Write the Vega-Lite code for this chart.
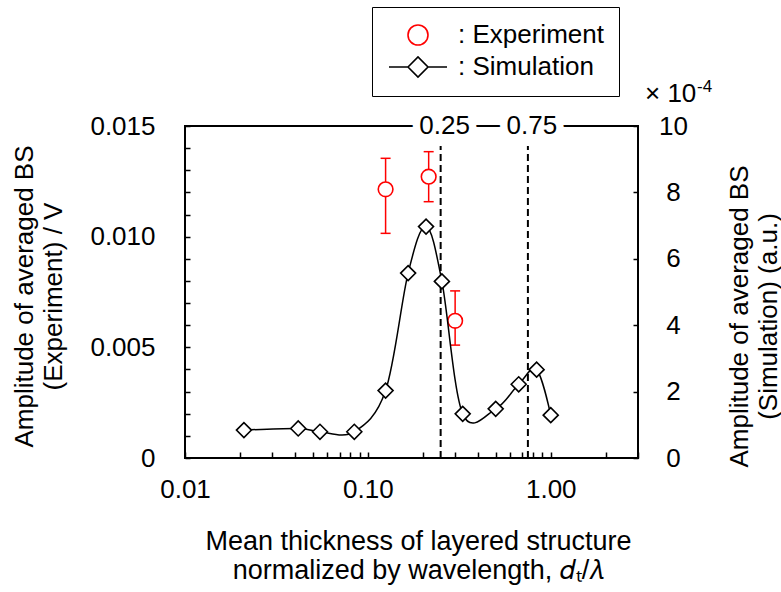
{
  "$schema": "https://vega.github.io/schema/vega-lite/v6.json",
  "width": 453,
  "height": 332,
  "autosize": {"type": "none"},
  "padding": {"left": 185, "top": 126, "right": 143, "bottom": 134},
  "background": "white",
  "config": {
    "view": {"stroke": "black", "strokeWidth": 2},
    "font": "Liberation Sans",
    "axis": {
      "grid": false,
      "domain": false,
      "tickColor": "black",
      "tickWidth": 1.5,
      "labelColor": "black",
      "labelFontSize": 26,
      "titleColor": "black",
      "titleFontSize": 26,
      "titleFontWeight": "normal",
      "titleLineHeight": 29,
      "zindex": 0
    },
    "axisLeft": {
      "offset": -5,
      "tickSize": 5,
      "labelPadding": 30,
      "labelOverlap": false,
      "labelFlush": false,
      "titleAngle": -90,
      "titleAlign": "center",
      "titleBaseline": "middle",
      "titleX": -166,
      "titleY": 170
    }
  },
  "datasets": {
    "exp": [
      {"x": 0.125, "y": 0.01214, "lo": 0.01015, "hi": 0.01354, "series": "Experiment"},
      {"x": 0.215, "y": 0.01271, "lo": 0.01158, "hi": 0.01384, "series": "Experiment"},
      {"x": 0.30, "y": 0.0062, "lo": 0.0051, "hi": 0.00755, "series": "Experiment"}
    ],
    "sim": [
      {"x": 0.021, "y": 0.84, "series": "Simulation"},
      {"x": 0.0416, "y": 0.89, "series": "Simulation"},
      {"x": 0.0547, "y": 0.79, "series": "Simulation"},
      {"x": 0.0843, "y": 0.79, "series": "Simulation"},
      {"x": 0.125, "y": 2.03, "series": "Simulation"},
      {"x": 0.166, "y": 5.57, "series": "Simulation"},
      {"x": 0.208, "y": 6.97, "series": "Simulation"},
      {"x": 0.254, "y": 5.32, "series": "Simulation"},
      {"x": 0.330, "y": 1.33, "series": "Simulation"},
      {"x": 0.50, "y": 1.48, "series": "Simulation"},
      {"x": 0.668, "y": 2.22, "series": "Simulation"},
      {"x": 0.837, "y": 2.66, "series": "Simulation"},
      {"x": 1.0, "y": 1.29, "series": "Simulation"}
    ],
    "guides": [
      {"x": 0.25, "label": "0.25"},
      {"x": 0.75, "label": "0.75"}
    ],
    "one": [{}]
  },
  "layer": [
    {
      "layer": [
        {
          "data": {"name": "guides"},
          "mark": {"type": "rule", "strokeDash": [7, 4], "strokeWidth": 2, "color": "black"},
          "encoding": {
            "x": {
              "field": "x", "type": "quantitative",
              "scale": {"type": "log", "domain": [0.01, 3], "nice": false},
              "axis": {
                "orient": "bottom",
                "offset": -6,
                "values": [0.01, 0.02, 0.03, 0.04, 0.05, 0.06, 0.07, 0.08, 0.09, 0.1, 0.2, 0.3, 0.4, 0.5, 0.6, 0.7, 0.8, 0.9, 1, 2, 3],
                "labelExpr": "(datum.value == 0.01 || datum.value == 0.1 || datum.value == 1) ? format(datum.value, '.2f') : ''",
                "labelOverlap": false,
                "labelFlush": false,
                "tickSize": 6,
                "labelPadding": 18,
                "title": ["Mean thickness of layered structure", "normalized by wavelength, 𝑑ₜ/𝜆"],
                "titleFontSize": 27,
                "titleX": 233,
                "titleY": 76,
                "titleBaseline": "top"
              }
            },
            "y": {
              "datum": 0, "type": "quantitative",
              "scale": {"domain": [0, 0.015], "nice": false},
              "axis": {
                "values": [0, 0.001, 0.002, 0.003, 0.004, 0.005, 0.006, 0.007, 0.008, 0.009, 0.01, 0.011, 0.012, 0.013, 0.014, 0.015],
                "labelExpr": "datum.value == 0 ? '0' : (round(datum.value * 1000) % 5 == 0 ? format(datum.value, '.3f') : '')",
                "title": ["Amplitude of averaged BS", "(Experiment) / V"]
              }
            },
            "y2": {"datum": 0.0141}
          }
        },
        {
          "data": {"name": "exp"},
          "mark": {"type": "rule", "color": "#ff0000", "strokeWidth": 1.5},
          "encoding": {
            "x": {"field": "x", "type": "quantitative"},
            "y": {
              "field": "lo", "type": "quantitative",
              "axis": {
                "values": [0, 0.001, 0.002, 0.003, 0.004, 0.005, 0.006, 0.007, 0.008, 0.009, 0.01, 0.011, 0.012, 0.013, 0.014, 0.015],
                "labelExpr": "datum.value == 0 ? '0' : (round(datum.value * 1000) % 5 == 0 ? format(datum.value, '.3f') : '')",
                "title": ["Amplitude of averaged BS", "(Experiment) / V"]
              }
            },
            "y2": {"field": "hi"}
          }
        },
        {
          "data": {"name": "exp"},
          "mark": {"type": "tick", "orient": "horizontal", "color": "#ff0000", "size": 10, "thickness": 1.5, "opacity": 1},
          "encoding": {
            "x": {"field": "x", "type": "quantitative"},
            "y": {
              "field": "lo", "type": "quantitative",
              "axis": {
                "values": [0, 0.001, 0.002, 0.003, 0.004, 0.005, 0.006, 0.007, 0.008, 0.009, 0.01, 0.011, 0.012, 0.013, 0.014, 0.015],
                "labelExpr": "datum.value == 0 ? '0' : (round(datum.value * 1000) % 5 == 0 ? format(datum.value, '.3f') : '')",
                "title": ["Amplitude of averaged BS", "(Experiment) / V"]
              }
            }
          }
        },
        {
          "data": {"name": "exp"},
          "mark": {"type": "tick", "orient": "horizontal", "color": "#ff0000", "size": 10, "thickness": 1.5, "opacity": 1},
          "encoding": {
            "x": {"field": "x", "type": "quantitative"},
            "y": {
              "field": "hi", "type": "quantitative",
              "axis": {
                "values": [0, 0.001, 0.002, 0.003, 0.004, 0.005, 0.006, 0.007, 0.008, 0.009, 0.01, 0.011, 0.012, 0.013, 0.014, 0.015],
                "labelExpr": "datum.value == 0 ? '0' : (round(datum.value * 1000) % 5 == 0 ? format(datum.value, '.3f') : '')",
                "title": ["Amplitude of averaged BS", "(Experiment) / V"]
              }
            }
          }
        },
        {
          "data": {"name": "exp"},
          "mark": {"type": "point", "fill": "white", "filled": false, "strokeWidth": 1.6, "size": 215, "opacity": 1},
          "encoding": {
            "x": {"field": "x", "type": "quantitative"},
            "y": {
              "field": "y", "type": "quantitative",
              "axis": {
                "values": [0, 0.001, 0.002, 0.003, 0.004, 0.005, 0.006, 0.007, 0.008, 0.009, 0.01, 0.011, 0.012, 0.013, 0.014, 0.015],
                "labelExpr": "datum.value == 0 ? '0' : (round(datum.value * 1000) % 5 == 0 ? format(datum.value, '.3f') : '')",
                "title": ["Amplitude of averaged BS", "(Experiment) / V"]
              }
            },
            "stroke": {
              "field": "series", "type": "nominal",
              "scale": {"domain": ["Experiment", "Simulation"], "range": ["#ff0000", "#000000"]},
              "legend": {
                "orient": "none",
                "legendX": 187,
                "legendY": -119,
                "title": null,
                "labelExpr": "': ' + datum.label",
                "labelFontSize": 26,
                "labelColor": "black",
                "strokeColor": "black",
                "padding": 15,
                "symbolOffset": 18,
                "labelOffset": 27,
                "rowPadding": 4,
                "symbolSize": 400,
                "symbolStrokeWidth": 1.6,
                "fillColor": "white",
                "encode": {
                  "legend": {"update": {"strokeWidth": {"value": 1.5}}},
                  "symbols": {
                    "update": {
                      "size": [
                        {"test": "datum.value === 'Simulation'", "value": 400},
                        {"value": 230}
                      ],
                      "fill": {"value": "white"}
                    }
                  }
                }
              }
            },
            "shape": {
              "field": "series", "type": "nominal",
              "scale": {"domain": ["Experiment", "Simulation"], "range": ["circle", "M-2.9,0L-1,0M1,0L2.9,0M-1,0L0,-1L1,0L0,1Z"]}
            }
          }
        },
        {
          "data": {"name": "guides"},
          "mark": {"type": "text", "fontSize": 26, "baseline": "middle", "align": "center", "dx": 4, "stroke": "white", "strokeWidth": 15, "fill": "white"},
          "encoding": {
            "x": {"field": "x", "type": "quantitative"},
            "y": {
              "datum": 0.015, "type": "quantitative",
              "axis": {
                "values": [0, 0.001, 0.002, 0.003, 0.004, 0.005, 0.006, 0.007, 0.008, 0.009, 0.01, 0.011, 0.012, 0.013, 0.014, 0.015],
                "labelExpr": "datum.value == 0 ? '0' : (round(datum.value * 1000) % 5 == 0 ? format(datum.value, '.3f') : '')",
                "title": ["Amplitude of averaged BS", "(Experiment) / V"]
              }
            },
            "text": {"field": "label"}
          }
        },
        {
          "data": {"name": "guides"},
          "mark": {"type": "text", "fontSize": 26, "baseline": "middle", "align": "center", "dx": 4, "color": "black"},
          "encoding": {
            "x": {"field": "x", "type": "quantitative"},
            "y": {
              "datum": 0.015, "type": "quantitative",
              "axis": {
                "values": [0, 0.001, 0.002, 0.003, 0.004, 0.005, 0.006, 0.007, 0.008, 0.009, 0.01, 0.011, 0.012, 0.013, 0.014, 0.015],
                "labelExpr": "datum.value == 0 ? '0' : (round(datum.value * 1000) % 5 == 0 ? format(datum.value, '.3f') : '')",
                "title": ["Amplitude of averaged BS", "(Experiment) / V"]
              }
            },
            "text": {"field": "label"}
          }
        }
      ]
    },
    {
      "layer": [
        {
          "data": {"name": "sim"},
          "mark": {"type": "line", "color": "black", "strokeWidth": 1.5, "interpolate": "cardinal"},
          "encoding": {
            "x": {"field": "x", "type": "quantitative"},
            "y": {
              "field": "y", "type": "quantitative",
              "scale": {"domain": [0, 10], "nice": false},
              "axis": {
                "orient": "right",
                "offset": -5,
                "values": [0, 2, 4, 6, 8, 10],
                "tickSize": 5,
                "labelAlign": "center",
                "labelPadding": 35,
                "labelFlush": false,
                "title": ["Amplitude of averaged BS", "(Simulation)  (a.u.)"],
                "titleAngle": -90,
                "titleAlign": "center",
                "titleBaseline": "middle",
                "titleX": 106,
                "titleY": 190
              }
            }
          }
        },
        {
          "data": {"name": "sim"},
          "mark": {"type": "point", "shape": "diamond", "fill": "white", "filled": false, "strokeWidth": 1.6, "size": 225, "opacity": 1},
          "encoding": {
            "x": {"field": "x", "type": "quantitative"},
            "y": {"field": "y", "type": "quantitative"},
            "stroke": {"field": "series", "type": "nominal"}
          }
        },
        {
          "data": {"name": "one"},
          "mark": {"type": "text", "fontSize": 26, "align": "left", "baseline": "alphabetic", "dx": 7, "dy": -24, "text": "× 10", "color": "black"},
          "encoding": {
            "x": {"datum": 3, "type": "quantitative"},
            "y": {"datum": 10, "type": "quantitative"}
          }
        },
        {
          "data": {"name": "one"},
          "mark": {"type": "text", "fontSize": 17, "align": "left", "baseline": "alphabetic", "dx": 59, "dy": -34, "text": "-4", "color": "black"},
          "encoding": {
            "x": {"datum": 3, "type": "quantitative"},
            "y": {"datum": 10, "type": "quantitative"}
          }
        }
      ]
    }
  ],
  "resolve": {"scale": {"y": "independent"}}
}
